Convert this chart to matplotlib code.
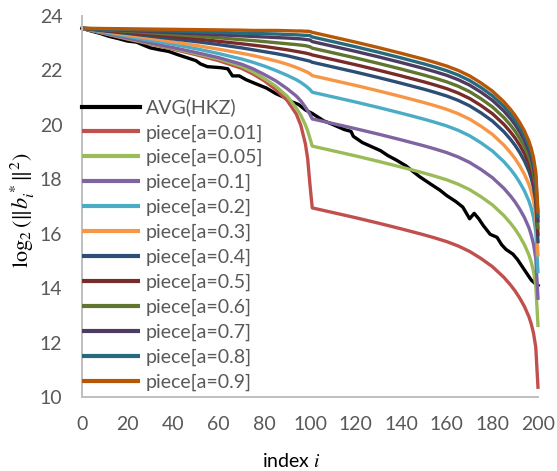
import matplotlib
matplotlib.use("Agg")
import matplotlib.pyplot as plt

plt.rcParams['font.family'] = ['Lato', 'DejaVu Sans']
plt.rcParams['mathtext.fontset'] = 'stix'

# Sample indices shared by all piece profiles (first block 0..100, second block 101..200)
piece_idx = [0, 10, 20, 30, 40, 50, 60, 70, 75, 80, 85, 90, 94, 96, 98, 99, 100,
             101, 110, 120, 130, 140, 150, 155, 160, 165, 170, 175, 180, 185, 188,
             190, 192, 194, 196, 197, 198, 199, 200]

piece_a001 = [23.55, 23.35, 23.15, 22.97, 22.78, 22.58, 22.36, 22.08, 21.87, 21.62, 21.30, 20.90, 20.40, 19.98, 19.30, 18.75, 17.80,
              16.95, 16.78, 16.59, 16.39, 16.18, 15.96, 15.84, 15.71, 15.55, 15.35, 15.09, 14.79, 14.40, 14.11, 13.89, 13.63, 13.33, 12.95, 12.69, 12.35, 11.83, 10.30]
piece_a005 = [23.55, 23.36, 23.17, 22.99, 22.81, 22.62, 22.42, 22.15, 21.95, 21.70, 21.42, 21.05, 20.62, 20.35, 20.00, 19.78, 19.50,
              19.22, 19.05, 18.86, 18.66, 18.45, 18.23, 18.11, 17.98, 17.82, 17.62, 17.36, 17.06, 16.67, 16.38, 16.16, 15.90, 15.60, 15.22, 14.96, 14.62, 14.10, 12.57]
piece_a01 = [23.55, 23.37, 23.19, 23.01, 22.84, 22.66, 22.47, 22.23, 22.06, 21.85, 21.62, 21.33, 21.06, 20.88, 20.65, 20.52, 20.38,
             20.22, 20.05, 19.86, 19.66, 19.45, 19.23, 19.11, 18.98, 18.82, 18.62, 18.36, 18.06, 17.67, 17.38, 17.16, 16.90, 16.60, 16.22, 15.96, 15.62, 15.10, 13.57]
piece_a02 = [23.55, 23.40, 23.25, 23.10, 22.96, 22.80, 22.62, 22.42, 22.30, 22.16, 22.00, 21.82, 21.66, 21.56, 21.44, 21.37, 21.30,
             21.20, 21.03, 20.84, 20.64, 20.43, 20.21, 20.09, 19.96, 19.80, 19.60, 19.34, 19.04, 18.65, 18.36, 18.14, 17.88, 17.58, 17.20, 16.94, 16.60, 16.08, 14.55]
piece_a03 = [23.55, 23.43, 23.30, 23.18, 23.05, 22.92, 22.78, 22.63, 22.55, 22.45, 22.35, 22.23, 22.11, 22.04, 21.97, 21.93, 21.88,
             21.81, 21.64, 21.45, 21.25, 21.04, 20.82, 20.70, 20.57, 20.41, 20.21, 19.95, 19.65, 19.26, 18.97, 18.75, 18.49, 18.19, 17.81, 17.55, 17.21, 16.69, 15.16]
piece_a04 = [23.55, 23.45, 23.36, 23.26, 23.16, 23.06, 22.95, 22.83, 22.76, 22.69, 22.62, 22.54, 22.46, 22.42, 22.38, 22.36, 22.34,
             22.30, 22.13, 21.94, 21.74, 21.53, 21.31, 21.19, 21.06, 20.90, 20.70, 20.44, 20.14, 19.75, 19.46, 19.24, 18.98, 18.68, 18.30, 18.04, 17.70, 17.18, 15.65]
piece_a05 = [23.55, 23.47, 23.40, 23.32, 23.24, 23.16, 23.07, 22.98, 22.93, 22.88, 22.82, 22.76, 22.70, 22.67, 22.64, 22.62, 22.60,
             22.57, 22.40, 22.21, 22.01, 21.80, 21.58, 21.46, 21.33, 21.17, 20.97, 20.71, 20.41, 20.02, 19.73, 19.51, 19.25, 18.95, 18.57, 18.31, 17.97, 17.45, 15.92]
piece_a06 = [23.55, 23.49, 23.44, 23.38, 23.32, 23.26, 23.20, 23.13, 23.10, 23.06, 23.02, 22.98, 22.95, 22.93, 22.91, 22.89, 22.87,
             22.82, 22.65, 22.46, 22.26, 22.05, 21.83, 21.71, 21.58, 21.42, 21.22, 20.96, 20.66, 20.27, 19.98, 19.76, 19.50, 19.20, 18.82, 18.56, 18.22, 17.70, 16.17]
piece_a07 = [23.55, 23.51, 23.47, 23.43, 23.39, 23.35, 23.31, 23.27, 23.25, 23.23, 23.21, 23.19, 23.17, 23.16, 23.14, 23.13, 23.12,
             23.06, 22.89, 22.70, 22.50, 22.29, 22.07, 21.95, 21.82, 21.66, 21.46, 21.20, 20.90, 20.51, 20.22, 20.00, 19.74, 19.44, 19.06, 18.80, 18.46, 17.94, 16.41]
piece_a08 = [23.55, 23.52, 23.50, 23.47, 23.45, 23.42, 23.40, 23.37, 23.36, 23.35, 23.34, 23.32, 23.31, 23.30, 23.29, 23.29, 23.28,
             23.23, 23.06, 22.87, 22.67, 22.46, 22.24, 22.12, 21.99, 21.83, 21.63, 21.37, 21.07, 20.68, 20.39, 20.17, 19.91, 19.61, 19.23, 18.97, 18.63, 18.11, 16.58]
piece_a09 = [23.55, 23.54, 23.53, 23.52, 23.51, 23.50, 23.49, 23.48, 23.47, 23.47, 23.47, 23.46, 23.45, 23.45, 23.44, 23.44, 23.43,
             23.40, 23.23, 23.04, 22.84, 22.63, 22.41, 22.29, 22.16, 22.00, 21.80, 21.54, 21.24, 20.85, 20.56, 20.34, 20.08, 19.78, 19.40, 19.14, 18.80, 18.28, 16.75]

# Averaged HKZ profile
hkz_idx = [0, 4, 8, 12, 16, 20, 24, 27, 30, 34, 38, 42, 46, 50, 52, 55, 58, 61, 64, 66,
           69, 72, 76, 81, 85, 89, 92, 95, 98, 101, 106, 109, 115, 118, 119, 123, 127,
           131, 134, 138, 142, 145, 148, 153, 157, 160, 164, 167, 170, 172, 174, 176,
           179, 182, 184, 186, 189, 191, 193, 195, 197, 199, 200]
hkz_avg = [23.55, 23.45, 23.36, 23.25, 23.17, 23.08, 23.04, 22.93, 22.83, 22.76, 22.70,
           22.58, 22.47, 22.36, 22.24, 22.14, 22.12, 22.10, 22.06, 21.80, 21.80, 21.66,
           21.52, 21.35, 21.15, 21.00, 20.85, 20.75, 20.55, 20.42, 20.15, 20.05, 19.83,
           19.76, 19.58, 19.35, 19.20, 19.05, 18.88, 18.70, 18.50, 18.30, 18.10, 17.82,
           17.60, 17.40, 17.18, 16.98, 16.55, 16.75, 16.55, 16.30, 15.98, 15.87, 15.60,
           15.42, 15.25, 15.05, 14.80, 14.55, 14.30, 14.15, 14.10]

series_labels = ['AVG(HKZ)', 'piece[a=0.01]', 'piece[a=0.05]', 'piece[a=0.1]',
                 'piece[a=0.2]', 'piece[a=0.3]', 'piece[a=0.4]', 'piece[a=0.5]',
                 'piece[a=0.6]', 'piece[a=0.7]', 'piece[a=0.8]', 'piece[a=0.9]']
series_colors = ['#000000', '#C0504D', '#9BBB59', '#8064A2', '#4BACC6', '#F79646',
                 '#2C4D75', '#772C2A', '#5F7530', '#4D3B62', '#276A7C', '#B65708']

pieces = [piece_a001, piece_a005, piece_a01, piece_a02, piece_a03, piece_a04,
          piece_a05, piece_a06, piece_a07, piece_a08, piece_a09]

x_ticks = list(range(0, 201, 20))
y_ticks = list(range(10, 25, 2))

fig = plt.figure(figsize=(5.57, 4.71), dpi=100)
ax = fig.add_axes([0.147, 0.157, 0.819, 0.809])

lw = 2.4
ax.plot(hkz_idx, hkz_avg, color=series_colors[0], lw=lw, label=series_labels[0],
        solid_joinstyle='round', clip_on=False)
for vals, lab, col in zip(pieces, series_labels[1:], series_colors[1:]):
    ax.plot(piece_idx, vals, color=col, lw=lw, label=lab,
            solid_joinstyle='round', solid_capstyle='butt', clip_on=False)

ax.set_xlim(0, 200)
ax.set_ylim(10, 24)
ax.set_xticks(x_ticks)
ax.set_yticks(y_ticks)

for side in ('top', 'right'):
    ax.spines[side].set_visible(False)
for side in ('left', 'bottom'):
    ax.spines[side].set_color('#BFBFBF')
    ax.spines[side].set_linewidth(1.4)

ax.tick_params(axis='both', length=0, labelsize=14, labelcolor='#595959')
ax.tick_params(axis='x', pad=14)
ax.tick_params(axis='y', pad=14)

ax.set_xlabel('index $i$', fontsize=14, color='#000000')
ax.xaxis.set_label_coords(0.46, -0.145)
ax.set_ylabel(r'$\log_2(\|b_i^*\|^2)$', fontsize=16, color='#000000')
ax.yaxis.set_label_coords(-0.098, 0.49)

leg = ax.legend(loc='upper left', bbox_to_anchor=(0.0, 0.783), frameon=False,
                fontsize=14, handlelength=3.0, handletextpad=0.3,
                labelspacing=0.39, borderpad=0, borderaxespad=0)
for t in leg.get_texts():
    t.set_color('#595959')
for h in leg.get_lines():
    h.set_linewidth(3.0)

fig.savefig('out.png', dpi=100)
